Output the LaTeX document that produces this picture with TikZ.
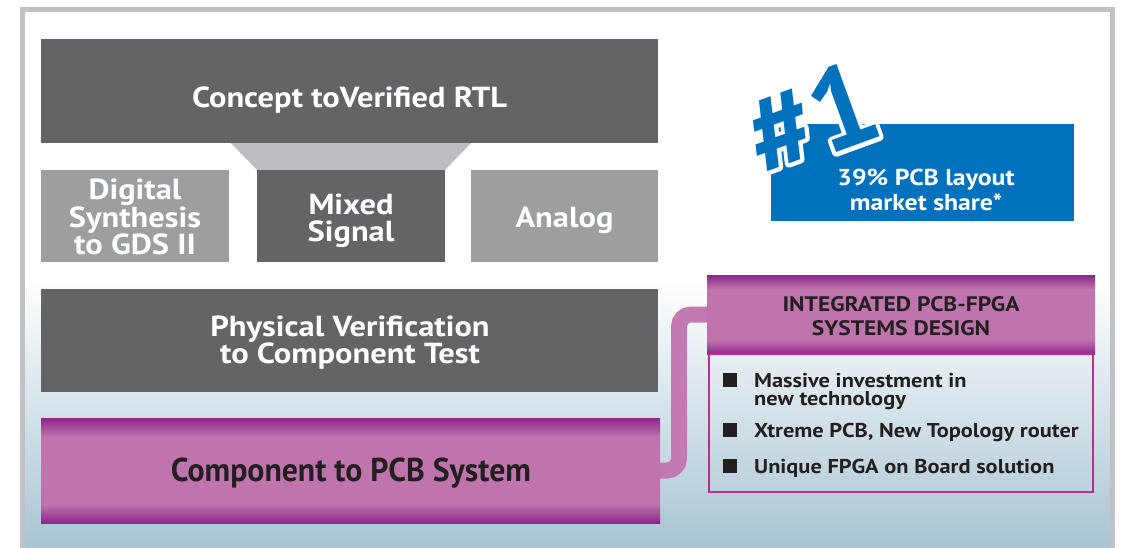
\documentclass[tikz,border=0pt]{standalone}
\usepackage{fontspec}
\setmainfont{PT Sans}[FakeStretch=1.12]
\newfontfamily\numfont{PT Sans}
\definecolor{dgray}{HTML}{646466}
\definecolor{lgray}{HTML}{9D9EA0}
\definecolor{trapc}{HTML}{BCBDC0}
\definecolor{framec}{HTML}{C0C1C4}
\definecolor{blueb}{HTML}{0071BC}
\definecolor{pdark}{HTML}{8E2589}
\definecolor{pmid}{HTML}{BF74AE}
\definecolor{connc}{HTML}{C17AB2}
\definecolor{pborder}{HTML}{C32A91}
\definecolor{bgb}{HTML}{A9C5D3}
\definecolor{txtd}{HTML}{231F20}
\pgfdeclareverticalshading{purp}{100bp}{color(0bp)=(pdark); color(25bp)=(pdark); color(34bp)=(pmid); color(66bp)=(pmid); color(75bp)=(pdark); color(100bp)=(pdark)}
\pgfdeclarelayer{back}
\pgfdeclarelayer{mid}
\pgfsetlayers{back,mid,main}
\newcommand\strokeonly[1]{\special{pdf:literal direct 1 Tr 8 w 1 j}#1\special{pdf:literal direct 0 Tr 0.4 w 0 j}}
\tikzset{
  blk/.style={inner sep=0pt},
  dblk/.style={blk, fill=dgray},
  lblk/.style={blk, fill=lgray},
  pblk/.style={inner sep=0pt, shading=purp},
  btxt/.style={inner sep=0pt, align=center, text=white, font=\bfseries\fontsize{29}{26}\selectfont},
  bul/.style={fill=txtd, minimum size=14pt, inner sep=0pt},
  bultxt/.style={anchor=west, align=left, inner sep=0pt, text=txtd, font=\bfseries\fontsize{20}{18}\selectfont},
  numst/.style={font=\numfont\bfseries\fontsize{116}{116}\selectfont, rotate=20, inner sep=0pt},
}
\begin{document}
\begin{tikzpicture}[x=1pt,y=-1pt]
\useasboundingbox (0,0) rectangle (1122,547);
% background
\begin{pgfonlayer}{back}
\fill[white] (25,12) rectangle (1110,547);
\shade[top color=white, bottom color=bgb] (25,280) rectangle (1110,547);
\draw[framec, line width=5pt] (22.5,560) -- (22.5,9.5) -- (1112.5,9.5) -- (1112.5,560);
\end{pgfonlayer}
% trapezoid
\fill[trapc] (231,143) -- (471,143) -- (445,170) -- (257,170) -- cycle;
% blocks
\node[dblk, minimum width=617pt, minimum height=104pt] (concept) at (349.5,91) {};
\node[btxt] (concepttext) at (349.5,100) {Concept toVerified RTL};
\node[lblk, minimum width=188pt, minimum height=92pt] (digital) at (135,216) {};
\node[btxt] (digitaltext) at (135,217) {Digital\\Synthesis\\to GDS II};
\node[dblk, minimum width=188pt, minimum height=92pt] (mixed) at (351,216) {};
\node[btxt, font=\bfseries\fontsize{29}{27}\selectfont] (mixedtext) at (351,221) {Mixed\\Signal};
\node[lblk, minimum width=187pt, minimum height=92pt] (analog) at (564.5,216) {};
\node[btxt] (analogtext) at (564.5,220) {Analog};
\node[dblk, minimum width=617pt, minimum height=103pt] (physical) at (349.5,340.5) {};
\node[btxt] (physicaltext) at (350,342.5) {Physical Verification\\to Component Test};
\node[pblk, minimum width=619pt, minimum height=105pt] (component) at (350.5,470.5) {};
\node[pblk, minimum width=388pt, minimum height=79pt] (header) at (901,314.5) {};
% connector
\coordinate (bend) at (679,470.5);
\begin{pgfonlayer}{mid}
\draw[connc, line width=16pt, rounded corners=12pt] (component.east) -- (bend) |- (header.west);
\end{pgfonlayer}
\node[text=txtd, inner sep=0pt, font=\bfseries\fontsize{33}{30}\selectfont, xscale=0.86] (comptext) at (351,473.5) {Component to PCB System};
\node[text=txtd, inner sep=0pt, align=center, font=\bfseries\fontsize{21}{24}\selectfont] (headertext) at (901,316.5) {INTEGRATED PCB-FPGA\\SYSTEMS DESIGN};
\draw[pborder, line width=2pt] (709,354) rectangle (1093,491.5);
% bullets
\node[bul] (b1) at (729.5,380) {};
\node[bul] (b2) at (729.5,430) {};
\node[bul] (b3) at (729.5,466) {};
\node[bultxt] (t1) at (754,392) {Massive investment in\\new technology};
\node[bultxt] (t2) at (754,432) {Xtreme PCB, New Topology router};
\node[bultxt] (t3) at (754,468) {Unique FPGA on Board solution};
% blue box
\node[fill=blueb, minimum width=303pt, minimum height=97pt, inner sep=0pt] (share) at (922.5,172.5) {};
\node[numst, text=white] (numoutline) at (811,118) {\strokeonly{\#1}};
\node[numst, text=blueb] (num) at (811,118) {\#1};
\node[text=white, align=center, inner sep=0pt, font=\bfseries\fontsize{23}{25}\selectfont] (sharetext) at (926,190) {39\% PCB layout\\market share*};
\end{tikzpicture}
\end{document}
